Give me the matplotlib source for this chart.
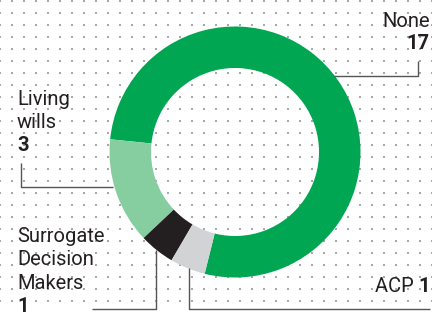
import numpy as np
import matplotlib
matplotlib.use("Agg")
import matplotlib.pyplot as plt

categories = ["None", "Living\nwills", "Surrogate\nDecision\nMakers", "ACP"]
values = [17, 3, 1, 1]
colors = ["#00A651", "#86CE9F", "#231F20", "#D1D3D4"]

W, H = 432, 312
fig = plt.figure(figsize=(W / 100, H / 100), dpi=100)
ax = fig.add_axes([0, 0, 1, 1])
ax.set_xlim(0, W)
ax.set_ylim(0, H)
ax.axis("off")

def Y(ypx):
    return H - ypx

# dotted background
gx, gy = np.meshgrid(np.arange(0, W + 1, 12), np.arange(1, H + 1, 12))
ax.scatter(gx.ravel(), Y(gy.ravel()), s=1.6, c="#a8a8a8", marker="s", linewidths=0, zorder=0)

cx, cy, R = 235, 152, 125.5
ax.pie(values, colors=colors, startangle=256, counterclock=True,
       center=(cx, Y(cy)), radius=R, frame=True,
       wedgeprops=dict(width=41.5, linewidth=0))
ax.set_xlim(0, W)
ax.set_ylim(0, H)
ax.set_aspect("equal")
ax.axis("off")

lc = "#555555"
lw = 1.0
def leader(pts):
    xs = [p[0] for p in pts]
    ys = [Y(p[1]) for p in pts]
    ax.plot(xs, ys, color=lc, lw=lw, solid_capstyle="butt", zorder=3)

leader([(334, 76), (418, 76), (418, 61)])
leader([(113, 187), (21, 187), (21, 163)])
leader([(156, 250), (156, 309), (92, 309)])
leader([(189, 268), (189, 309), (430, 309)])

fam = ["Roboto", "DejaVu Sans"]
tc = "#231F20"
fs = 14.5
ls = 23

# None
ax.text(430, Y(27), categories[0], ha="right", va="baseline", fontsize=fs, color=tc, family=fam)
ax.text(430, Y(49), str(values[0]), ha="right", va="baseline", fontsize=fs, color=tc, family=fam, fontweight="bold")

# Living wills
for i, line in enumerate(categories[1].split("\n")):
    ax.text(17, Y(105 + i * ls), line, ha="left", va="baseline", fontsize=fs, color=tc, family=fam)
ax.text(17, Y(105 + 2 * ls), str(values[1]), ha="left", va="baseline", fontsize=fs, color=tc, family=fam, fontweight="bold")

# Surrogate
for i, line in enumerate(categories[2].split("\n")):
    ax.text(17, Y(242 + i * 23.3), line, ha="left", va="baseline", fontsize=fs, color=tc, family=fam)
ax.text(17, Y(242 + 3 * 23.3), str(values[2]), ha="left", va="baseline", fontsize=fs, color=tc, family=fam, fontweight="bold")

# ACP
t = ax.text(430, Y(292), str(values[3]), ha="right", va="baseline", fontsize=fs, color=tc, family=fam, fontweight="bold")
ax.annotate(categories[3] + " ", xy=(0, 0), xycoords=t, ha="right", va="bottom",
            fontsize=fs, color=tc, family=fam)

fig.savefig("out.png", dpi=100, facecolor="white")
